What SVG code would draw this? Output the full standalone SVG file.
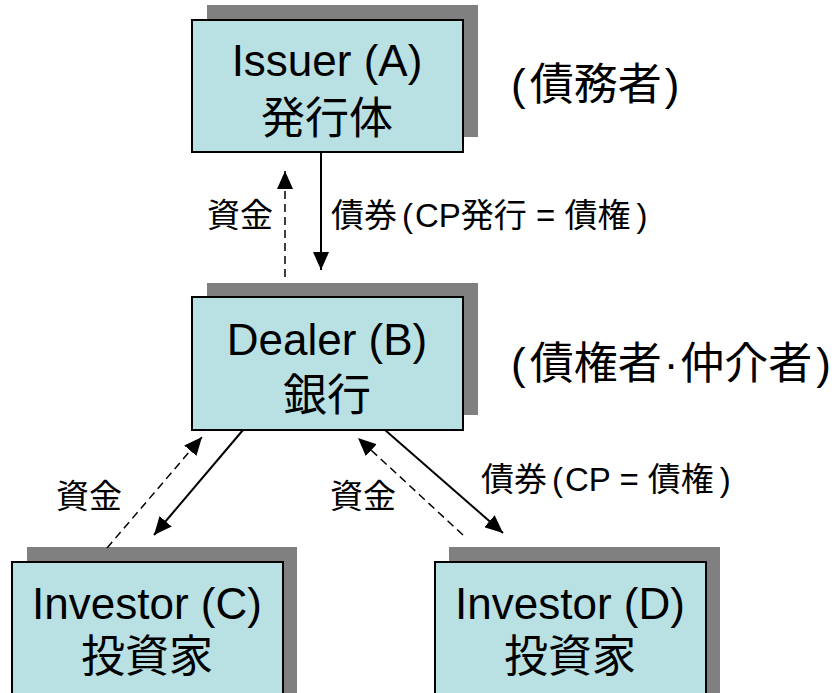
<svg xmlns="http://www.w3.org/2000/svg" width="840" height="693" viewBox="0 0 840 693">
<defs>
<marker id="ah" viewBox="0 0 18 16" refX="18" refY="8" markerWidth="18" markerHeight="16" markerUnits="userSpaceOnUse" orient="auto">
<path d="M0,0 L18,8 L0,16 z" fill="#000"/>
</marker>
<style>
.shadow{fill:#808080}
.box{fill:#B9E0E3;stroke:#000;stroke-width:2}
.t{font-family:"Liberation Sans","Noto Sans CJK JP",sans-serif;fill:#000;text-anchor:middle;font-size:44px}
.lab{font-family:"Liberation Sans","Noto Sans CJK JP",sans-serif;fill:#000;font-size:33px}
.side{font-family:"Liberation Sans","Noto Sans CJK JP",sans-serif;fill:#000;font-size:44px}
.solid{stroke:#000;stroke-width:2;fill:none}
.dash{stroke:#000;stroke-width:1.5;fill:none;stroke-dasharray:8 5}
</style>
</defs>
<rect width="840" height="693" fill="#fff"/>
<g id="issuerA">
<rect class="shadow" x="207" y="5" width="271" height="132"/>
<rect class="box" x="192" y="20" width="271" height="132"/>
<text class="t" x="327" y="76">Issuer (A)</text>
<text class="t" x="327" y="134">発行体</text>
</g>
<g id="dealerB">
<rect class="shadow" x="207" y="283" width="271" height="132"/>
<rect class="box" x="192" y="297" width="271" height="133"/>
<text class="t" x="327" y="355">Dealer (B)</text>
<text class="t" x="327" y="411">銀行</text>
</g>
<g id="investorC">
<rect class="shadow" x="27" y="547" width="270" height="160"/>
<rect class="box" x="12" y="562" width="271" height="140"/>
<text class="t" x="147" y="619">Investor (C)</text>
<text class="t" x="147" y="672">投資家</text>
</g>
<g id="investorD">
<rect class="shadow" x="449" y="547" width="271" height="160"/>
<rect class="box" x="435" y="562" width="271" height="140"/>
<text class="t" x="570" y="619">Investor (D)</text>
<text class="t" x="570" y="672">投資家</text>
</g>
<g id="connectors">
<line class="solid" x1="321" y1="152" x2="321" y2="270" marker-end="url(#ah)"/>
<line class="dash" x1="285" y1="277" x2="285" y2="171" marker-end="url(#ah)"/>
<line class="solid" x1="243" y1="430" x2="154" y2="535" marker-end="url(#ah)"/>
<line class="dash" x1="107" y1="548" x2="202" y2="437" marker-end="url(#ah)"/>
<line class="solid" x1="385" y1="430" x2="503" y2="533" marker-end="url(#ah)"/>
<line class="dash" x1="463" y1="535" x2="358" y2="438" marker-end="url(#ah)"/>
</g>
<g id="labels">
<text class="lab" x="207" y="227">資金</text>
<text class="lab" x="331" y="227">債券<tspan dx="5">(</tspan><tspan dx="2">CP発行</tspan> = 債権<tspan dx="6">)</tspan></text>
<text class="lab" x="56" y="508">資金</text>
<text class="lab" x="330" y="508">資金</text>
<text class="lab" x="481" y="491">債券<tspan dx="5">(</tspan><tspan dx="2">CP</tspan> = 債権<tspan dx="6">)</tspan></text>
<text class="side" x="511" y="100">(<tspan dx="4">債務者</tspan><tspan dx="3">)</tspan></text>
<text class="side" x="511" y="379">(<tspan dx="4">債権者</tspan><tspan dx="2">·</tspan><tspan dx="2">仲介者</tspan><tspan dx="4">)</tspan></text>
</g>
</svg>
